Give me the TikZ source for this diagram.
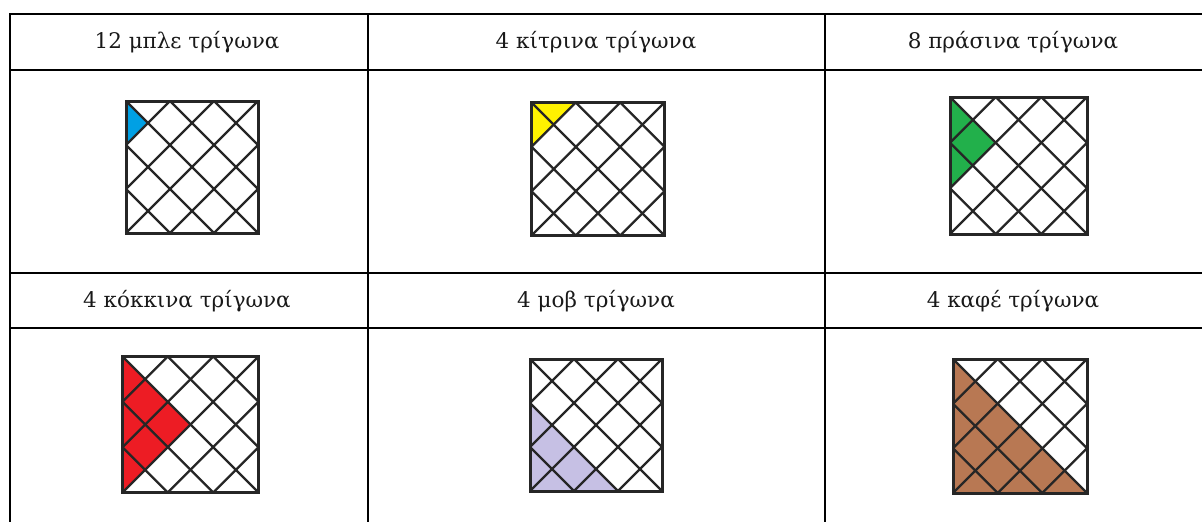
\documentclass[tikz,border=0pt]{standalone}
\usepackage{fontspec}
\setmainfont{DejaVu Serif}
\usepackage{tikz}
\usetikzlibrary{positioning}
\definecolor{Mple}{HTML}{00A0E4}
\definecolor{Kitrino}{HTML}{FFF200}
\definecolor{Prasino}{HTML}{22B04B}
\definecolor{Kokkino}{HTML}{ED1C24}
\definecolor{Mov}{HTML}{C6C0E4}
\definecolor{Kafe}{HTML}{B87853}

% #1 αριστερά, #2 πάνω, #3 πλευρά, #4 χρωματιστό κομμάτι
\newcommand{\plegma}[4]{%
  \begin{scope}[shift={(#1,#2)},x=#3pt,y=-#3pt]
    #4
    \begin{scope}
      \clip (0,0) rectangle (1,1);
      \foreach \k in {1,...,5} \draw[grammi] (\k/3+1,-1) -- ++(-3,3);
      \foreach \k in {-2,...,2} \draw[grammi] (\k/3-1,-1) -- ++(3,3);
    \end{scope}
    \draw[plaisio] (0,0) rectangle (1,1);
  \end{scope}}

\begin{document}
\begin{tikzpicture}[x=1pt,y=-1pt,
    grammi/.style={line width=2.3pt,black!85},
    plaisio/.style={line width=3pt,black!85},
    pinakas/.style={line width=2pt,black},
    xroma/.style={fill=#1,draw=white,line width=.4pt},
    titlos/.style={anchor=base,font=\fontsize{21.5}{26}\selectfont,text=black!90}]
  \useasboundingbox (0,0) rectangle (1202,522);

  % Γραμμές του πίνακα
  \draw[pinakas] (10,14) -- (1202,14);
  \draw[pinakas] (10,70) -- (1202,70);
  \draw[pinakas] (10,273) -- (1202,273);
  \draw[pinakas] (10,328) -- (1202,328);
  \draw[pinakas] (10,13) -- (10,522);
  \draw[pinakas] (367.5,14) -- (367.5,522);
  \draw[pinakas] (825,14) -- (825,522);

  \node[titlos] (mple)    at (187,48)  {12 μπλε τρίγωνα};
  \node[titlos] (kitrina) at (596,48)  {4 κίτρινα τρίγωνα};
  \node[titlos] (prasina) at (1013,48) {8 πράσινα τρίγωνα};
  \node[titlos] (kokkina) at (187,307) {4 κόκκινα τρίγωνα};
  \node[titlos] (mov)     at (596,307) {4 μοβ τρίγωνα};
  \node[titlos] (kafe)    at (1013,307){4 καφέ τρίγωνα};

  \plegma{126}{101}{132}{\path[xroma=Mple] (0,0) -- (1/6,1/6) -- (0,1/3) -- cycle;}
  \plegma{531.5}{102.5}{133}{\path[xroma=Kitrino] (0,0) -- (1/3,0) -- (0,1/3) -- cycle;}
  \plegma{950}{97}{137}{\path[xroma=Prasino] (0,0) -- (1/3,1/3) -- (0,2/3) -- cycle;}
  \plegma{122.5}{356.5}{136}{\path[xroma=Kokkino] (0,0) -- (1/2,1/2) -- (0,1) -- cycle;}
  \plegma{530}{359}{132}{\path[xroma=Mov] (0,1/3) -- (2/3,1) -- (0,1) -- cycle;}
  \plegma{953}{359}{134}{\path[xroma=Kafe] (0,0) -- (1,1) -- (0,1) -- cycle;}
\end{tikzpicture}
\end{document}
